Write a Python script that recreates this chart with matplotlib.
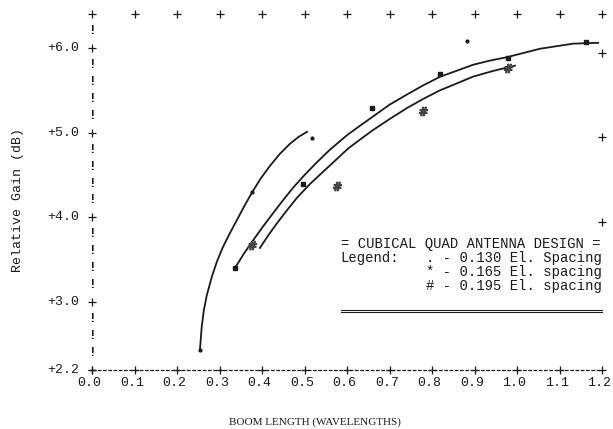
import numpy as np
import matplotlib.pyplot as plt

# Curves (boom length in wavelengths, gain in dB)
x_130 = [0.254, 0.258, 0.263, 0.270, 0.282, 0.294, 0.308, 0.324, 0.341, 0.358,
         0.376, 0.397, 0.419, 0.442, 0.466, 0.486, 0.506]
y_130 = [2.44, 2.70, 2.90, 3.08, 3.30, 3.48, 3.65, 3.81, 3.97, 4.13,
         4.29, 4.46, 4.61, 4.75, 4.87, 4.95, 5.01]

x_165 = [0.336, 0.357, 0.379, 0.402, 0.426, 0.449, 0.473, 0.500, 0.529, 0.560,
         0.600, 0.630, 0.661, 0.700, 0.741, 0.780, 0.819, 0.858, 0.896, 0.936,
         0.976, 1.015, 1.054, 1.093, 1.132, 1.191]
y_165 = [3.40, 3.57, 3.73, 3.89, 4.05, 4.20, 4.35, 4.50, 4.65, 4.80,
         4.97, 5.08, 5.19, 5.33, 5.45, 5.56, 5.66, 5.73, 5.80, 5.85,
         5.89, 5.94, 5.99, 6.02, 6.05, 6.06]

x_195 = [0.395, 0.415, 0.435, 0.458, 0.482, 0.512, 0.544, 0.572, 0.602, 0.631,
         0.661, 0.700, 0.741, 0.780, 0.819, 0.858, 0.896, 0.945, 0.995]
y_195 = [3.64, 3.79, 3.93, 4.08, 4.23, 4.39, 4.54, 4.67, 4.81, 4.92,
         5.03, 5.16, 5.29, 5.40, 5.50, 5.58, 5.66, 5.73, 5.79]

# plotted data points
pts_130_x = [0.254, 0.376, 0.518, 0.882]
pts_130_y = [2.44, 4.30, 4.94, 6.08]
pts_165_x = [0.336, 0.496, 0.659, 0.819, 0.979, 1.162]
pts_165_y = [3.40, 4.40, 5.29, 5.69, 5.88, 6.07]
pts_195_x = [0.376, 0.576, 0.779, 0.979]
pts_195_y = [3.67, 4.37, 5.26, 5.76]

x_ticks = [0.0, 0.1, 0.2, 0.3, 0.4, 0.5, 0.6, 0.7, 0.8, 0.9, 1.0, 1.1, 1.2]
y_major = [2.2, 3.0, 4.0, 5.0, 6.0]
y_labels = ['+2.2', '+3.0', '+4.0', '+5.0', '+6.0']
y_bang = [2.4, 2.6, 2.8, 3.2, 3.4, 3.6, 3.8, 4.2, 4.4, 4.6, 4.8,
          5.2, 5.4, 5.6, 5.8, 6.2]
right_plus = [5.94, 4.95, 3.95]

legend_lines = ['. - 0.130 El. Spacing', '* - 0.165 El. spacing', '# - 0.195 El. spacing']

ink = '#1a1a1a'
mono = 'Liberation Mono'

fig = plt.figure(figsize=(6.13, 4.29), dpi=100)
ax = fig.add_axes([92/613, 59/429, 510/613, 356/429])
ax.set_xlim(0, 1.2)
ax.set_ylim(2.2, 6.4)
ax.axis('off')

# typewriter-style frame
ax.plot([0, 1.2], [2.2, 2.2], color=ink, lw=0.9, ls=(0, (3, 1.2)), clip_on=False)
ax.plot(x_ticks, [2.2]*len(x_ticks), '+', color=ink, ms=5.5, mew=0.9, clip_on=False)
ax.plot(x_ticks, [6.4]*len(x_ticks), '+', color=ink, ms=5.5, mew=0.9, clip_on=False)
ax.plot([0]*len(y_major), y_major, '+', color=ink, ms=5.5, mew=0.9, clip_on=False)
ax.plot([1.2]*len(right_plus), right_plus, '+', color=ink, ms=5.5, mew=0.9, clip_on=False)
for yb in y_bang:
    ax.text(0, yb, '!', ha='center', va='center', fontsize=9, family=mono,
            color=ink, fontweight='bold')

for xt in x_ticks:
    ax.text(xt - 0.006, 2.2 - 0.15, f'{xt:.1f}', ha='center', va='center',
            fontsize=9.5, family=mono, color=ink)
for yv, lab in zip(y_major, y_labels):
    ax.text(-0.03, yv, lab, ha='right', va='center', fontsize=9.5,
            family=mono, color=ink)

# curves
for cx, cy in [(x_130, y_130), (x_165, y_165), (x_195, y_195)]:
    ax.plot(cx, cy, color=ink, lw=1.3, clip_on=False)

ax.plot(pts_130_x, pts_130_y, 'o', color=ink, ms=2, clip_on=False)
ax.plot(pts_165_x, pts_165_y, 's', color=ink, ms=3, clip_on=False)
ax.plot(pts_195_x, pts_195_y, marker='$\\#$', ls='none', color='#444444', ms=6, clip_on=False)

# legend block
ax.text(0.585, 3.69, '= CUBICAL QUAD ANTENNA DESIGN =', ha='left', va='center',
        fontsize=10, family=mono, color=ink)
ax.text(0.585, 3.52, 'Legend:', ha='left', va='center', fontsize=10,
        family=mono, color=ink)
for i, line in enumerate(legend_lines):
    ax.text(1.2, 3.52 - i*0.165, line, ha='right', va='center', fontsize=10,
            family=mono, color=ink)
ax.plot([0.585, 1.2], [2.91, 2.91], color=ink, lw=0.8, clip_on=False)
ax.plot([0.585, 1.2], [2.88, 2.88], color=ink, lw=0.8, clip_on=False)

fig.text(18/613, 1 - 200/429, 'Relative Gain (dB)', rotation=90, ha='center',
         va='center', fontsize=9.5, family=mono, color=ink)
fig.text(315/613, 1 - 422/429, 'BOOM LENGTH (WAVELENGTHS)', ha='center',
         va='center', fontsize=8, family='Liberation Serif', color=ink)

fig.savefig('out.png', dpi=100, facecolor='white')
